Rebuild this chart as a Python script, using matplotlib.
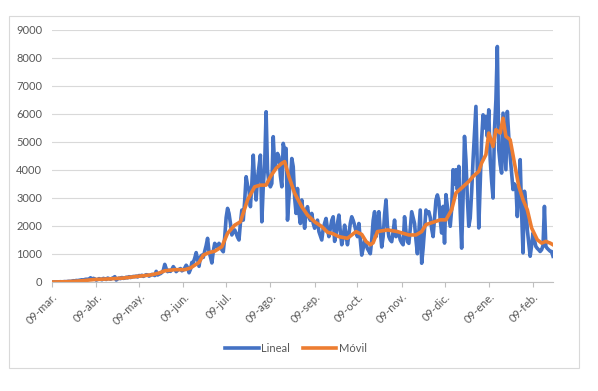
import numpy as np
import pandas as pd
import matplotlib
matplotlib.use("Agg")
import matplotlib.pyplot as plt
from matplotlib.patches import Rectangle

plt.rcParams['font.family'] = ['Lato', 'DejaVu Sans']

# casos diarios (serie "Lineal"), un valor por dia desde el 09-mar-2020
lineal = [0, 0, 2, 5, 3, 8, 10, 5, 12, 15, 10, 20, 25, 18,
          30, 45, 40, 55, 50, 60, 70, 80, 65, 90, 100, 85, 110, 150, 95, 130,
          110, 70, 90, 120, 100, 80, 130, 110, 90, 140, 120, 100, 130, 150, 190, 70,
          110, 140, 120, 160, 130, 140, 170, 150, 190, 160, 180, 200, 190, 210, 180, 230,
          220, 240, 200, 230, 260, 250, 210, 240, 270, 260, 230, 380, 250, 280, 300,
          340, 420, 630, 480, 370, 420, 380, 450, 550, 470, 370, 420, 450, 480, 400, 430,
          500, 600, 520, 330, 450, 700,
          700, 850, 1050, 800, 560, 900, 960, 880, 1100, 1300, 1560, 1080, 900, 680, 1100,
          1380, 1300, 1250, 1380, 1300, 1150, 1080, 1600,
          2300, 2630, 2450, 2100, 1680, 1800, 1860, 1740, 1600, 1500, 2100, 2570, 2210, 2900, 3760,
          3450, 3280, 2690, 3500, 4530, 3500, 2930, 3700, 4100, 4530, 2150, 3400, 4200, 6080, 4000,
          3520, 3400, 3520, 5190, 4120, 4300, 4590, 4470, 3800, 3400, 4950, 4700, 4770, 2210, 3000,
          3640, 4410, 4120, 3000, 2450, 3340, 2500, 2090, 2930, 2400, 1920, 2500, 2690, 2330, 2200,
          2450, 2100, 1920, 2050, 2210, 1800, 1650, 1500, 1900, 2100, 2270, 1900, 1620, 1900, 2200,
          2330, 1450, 1700, 2100, 2390, 1800, 1330, 1600, 2030, 1700, 1330, 1700, 2100, 2330, 2200,
          2030, 1800, 1620, 2090, 1500, 960, 1200, 1500, 1350, 1190, 1100, 1010, 1500, 2200, 2510,
          1620, 2100, 2510, 1800, 1250, 1620, 2400, 2930, 2000, 1620, 1500, 1440, 1800, 2210, 1620,
          1700, 1740, 1500, 1400, 1330, 2330, 1800, 1440, 1380, 1900, 2510, 2300, 2090, 1500, 1010,
          1800, 2570, 670, 1200, 1860, 2570, 2450, 2510, 2300, 1900, 1620, 2300, 2930, 3110, 2900,
          2210, 1750, 2700, 1390, 3120, 2700, 2340, 1990, 2600, 4010, 3500, 4010, 3300, 4130, 2500,
          1210, 3000, 5200, 4370, 3000, 1990, 2280, 3200, 4370, 5300, 6270, 4000, 1930, 3500, 5080,
          5970, 5500, 5910, 5200, 6150, 4370, 3600, 3000, 5440, 6500, 8410, 4720, 4200, 3890, 6030,
          5000, 4010, 6090, 5200, 4490, 3900, 3300, 3500, 3420, 2340, 3200, 4370, 2500, 1040, 3240,
          2800, 1870, 1400, 920, 1300, 1750, 1500, 1270, 1200, 1150, 1090, 1150, 1300, 2700, 1270,
          1200, 1150, 1100, 1090, 920]

# media movil ("Movil"), leida cada pocos dias (dia desde 09-mar-2020)
movil_dia = [0, 10, 20, 30, 40, 50, 58, 65, 70, 75, 79, 86, 93, 97, 100, 103, 106, 110, 114,
             119, 123, 128, 132, 137, 142, 146, 150, 153, 157, 161, 163, 166, 170, 175, 179,
             184, 189, 193, 197, 201, 207, 213, 217, 220, 223, 225, 228, 235, 242, 250, 255,
             259, 262, 268, 272, 276, 280, 283, 287, 292, 295, 299, 301, 304, 306, 309, 311,
             314, 316, 318, 321, 324, 327, 330, 333, 336, 340, 343, 346, 349, 351]
movil_val = [0, 10, 40, 90, 110, 140, 190, 230, 260, 320, 400, 440, 440, 500, 600, 700, 960,
             1050, 1100, 1260, 1740, 2030, 2150, 2930, 3400, 3460, 3460, 3760, 4060, 4240, 4300,
             3760, 3170, 2690, 2390, 2150, 1980, 1780, 1720, 1620, 1560, 1800, 1700, 1450, 1330,
             1400, 1800, 1860, 1800, 1680, 1680, 1800, 2050, 2150, 2220, 2220, 2580, 3180, 3360,
             3590, 3770, 3950, 4250, 4550, 5320, 4840, 5440, 5320, 5850, 5200, 5080, 4250, 3420,
             2940, 2580, 1930, 1510, 1390, 1450, 1390, 1330]

mes_ticks = ['2020-03-09', '2020-04-09', '2020-05-09', '2020-06-09', '2020-07-09', '2020-08-09',
             '2020-09-09', '2020-10-09', '2020-11-09', '2020-12-09', '2021-01-09', '2021-02-09']
mes_labels = ['09-mar.', '09-abr.', '09-may.', '09-jun.', '09-jul.', '09-ago.',
              '09-sep.', '09-oct.', '09-nov.', '09-dic.', '09-ene.', '09-feb.']
y_ticks = [0, 1000, 2000, 3000, 4000, 5000, 6000, 7000, 8000, 9000]

inicio = pd.Timestamp('2020-03-09')
fechas = pd.date_range(inicio, periods=len(lineal), freq='D')
fechas_movil = inicio + pd.to_timedelta(movil_dia, unit='D')

fig = plt.figure(figsize=(5.98, 3.91), dpi=100)
# marco del grafico
fig.patches.append(Rectangle((9/598, 1-368/391), 570/598, 352/391, transform=fig.transFigure,
                             fill=False, edgecolor='#d9d9d9', lw=0.8))

ax = fig.add_axes([52/598, 1-282/391, 501/598, 252/391])
ax.plot(fechas, lineal, color='#4472C4', lw=2.6, label='Lineal', solid_joinstyle='round')
ax.plot(fechas_movil, movil_val, color='#ED7D31', lw=2.6, label='Móvil', solid_joinstyle='round')

ax.set_ylim(0, 9000)
ax.set_xlim(fechas[0], fechas[-1])
ax.set_yticks(y_ticks)
ax.set_yticklabels([str(v) for v in y_ticks])
ax.set_xticks(pd.to_datetime(mes_ticks))
ax.set_xticklabels(mes_labels, rotation=45, ha='right', rotation_mode='anchor')
ax.grid(axis='y', color='#d9d9d9', lw=0.8)
ax.set_axisbelow(True)
for s in ['top', 'right', 'left']:
    ax.spines[s].set_visible(False)
ax.spines['bottom'].set_color('#bfbfbf')
ax.spines['bottom'].set_linewidth(0.8)
ax.tick_params(axis='y', length=0, labelsize=8, labelcolor='#595959', pad=7)
ax.tick_params(axis='x', length=3.5, color='#bfbfbf', labelsize=8, labelcolor='#595959', pad=3)

fig.legend(loc='center', bbox_to_anchor=(296/598, 1-348/391), ncol=2, frameon=False,
           fontsize=8, labelcolor='#595959', handlelength=3.0, handletextpad=0.2,
           columnspacing=1.2)

fig.savefig('out.png', dpi=100)
